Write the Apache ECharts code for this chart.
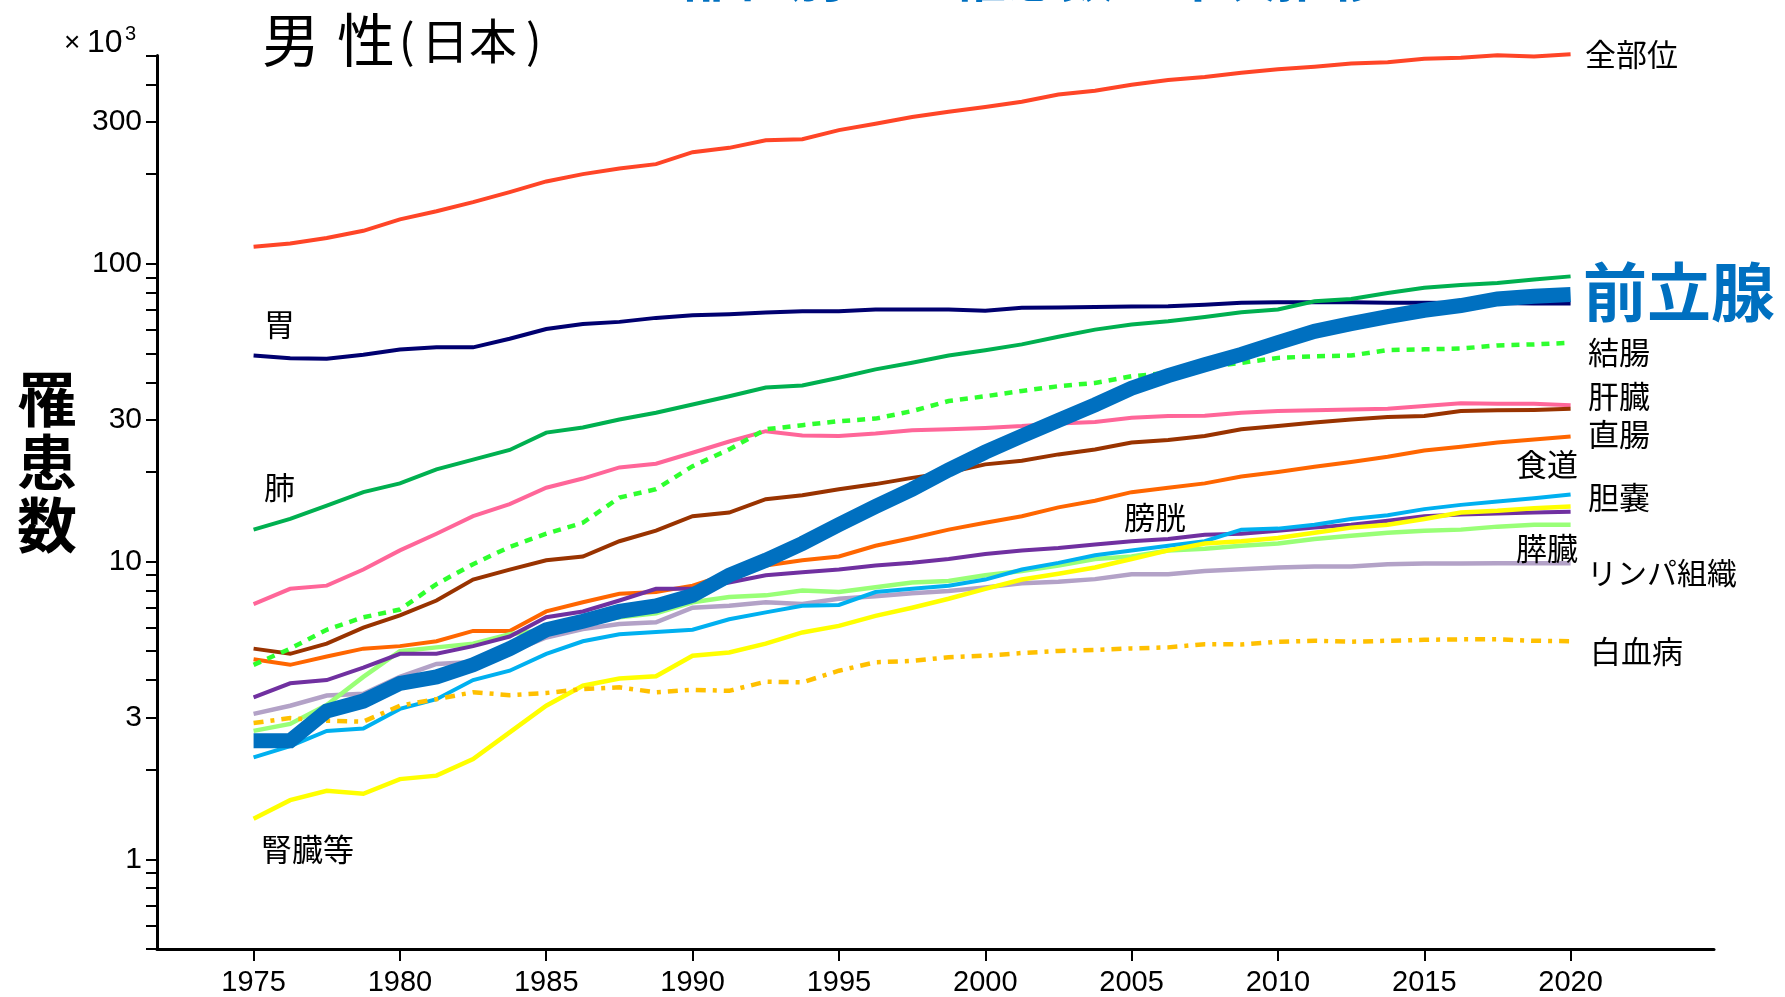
<!DOCTYPE html>
<html>
<head>
<meta charset="utf-8">
<script src="https://cdn.jsdelivr.net/npm/echarts@6/dist/echarts.min.js"></script>
<style>
  html, body { margin: 0; padding: 0; background: #fff; }
  #chart { width: 1785px; height: 997px; }
</style>
</head>
<body>
<div id="chart"></div>
<script>
// Sample positions along the time axis (years)
const years = [1975, 1976.25, 1977.5, 1978.75, 1980, 1981.25, 1982.5, 1983.75, 1985,
  1986.25, 1987.5, 1988.75, 1990, 1991.25, 1992.5, 1993.75, 1995, 1996.25, 1997.5,
  1998.75, 2000, 2001.25, 2002.5, 2003.75, 2005, 2006.25, 2007.5, 2008.75, 2010,
  2011.25, 2012.5, 2013.75, 2015, 2016.25, 2017.5, 2018.75, 2020];

// Axis ticks
const xTickYears = [1975, 1980, 1985, 1990, 1995, 2000, 2005, 2010, 2015, 2020];
const yTickLabels = [1, 3, 10, 30, 100, 300];
const yTicks = [0.5, 0.6, 0.7, 0.8, 0.9, 1, 2, 3, 4, 5, 6, 7, 8, 9, 10, 20, 30, 40, 50,
  60, 70, 80, 90, 100, 200, 300, 400, 500];

// Incidence (x 1000 persons), men
const allSites = [114, 117, 122, 129, 141, 150, 161, 174, 189, 200, 209, 216, 237, 245, 260,
  262, 281, 295, 311, 324, 336, 350, 370, 381, 399, 414, 424, 438, 450, 459, 470, 475, 488,
  492, 501, 497, 505];
const stomach = [49.2, 48.2, 48.0, 49.5, 51.5, 52.4, 52.4, 56.0, 60.4, 62.8, 63.8, 65.8, 67.1,
  67.7, 68.6, 69.2, 69.2, 70.2, 70.2, 70.2, 69.6, 71.1, 71.3, 71.6, 71.8, 72.0, 72.9, 74.0,
  74.2, 74.2, 74.2, 74.0, 74.0, 73.8, 73.8, 73.6, 73.6];
const lung = [12.8, 13.9, 15.4, 17.1, 18.3, 20.4, 22.0, 23.7, 27.1, 28.2, 30.0, 31.6, 33.7,
  35.9, 38.4, 39.0, 41.4, 44.2, 46.5, 49.2, 51.2, 53.6, 56.9, 60.1, 62.5, 64.1, 66.3, 68.7,
  70.2, 74.8, 76.2, 79.8, 83.0, 84.9, 86.2, 88.5, 90.7];
const prostate = [2.5, 2.5, 3.15, 3.4, 3.9, 4.1, 4.5, 5.1, 5.9, 6.3, 6.8, 7.1, 7.7, 9.0, 10.1,
  11.5, 13.3, 15.3, 17.5, 20.3, 23.3, 26.4, 29.8, 33.6, 38.2, 42.1, 45.8, 49.6, 54.3, 59.3,
  62.9, 66.4, 69.8, 72.4, 76.2, 77.8, 78.8];
const colon = [4.5, 5.1, 5.9, 6.5, 6.9, 8.4, 9.8, 11.2, 12.4, 13.5, 16.4, 17.5, 20.9, 23.8,
  27.8, 28.7, 29.6, 30.2, 32.0, 34.6, 35.9, 37.4, 38.8, 39.8, 41.9, 43.0, 44.8, 46.5, 48.3,
  48.9, 49.2, 51.3, 51.6, 51.9, 53.2, 53.6, 54.3];
const liver = [7.2, 8.1, 8.3, 9.4, 10.9, 12.4, 14.2, 15.6, 17.7, 19.0, 20.7, 21.3, 23.2, 25.3,
  27.4, 26.5, 26.4, 26.9, 27.6, 27.8, 28.1, 28.5, 29.1, 29.4, 30.4, 30.8, 30.9, 31.6, 32.0,
  32.2, 32.4, 32.6, 33.3, 34.0, 33.9, 33.9, 33.5];
const rectum = [5.1, 4.9, 5.3, 6.0, 6.6, 7.4, 8.7, 9.4, 10.1, 10.4, 11.7, 12.7, 14.2, 14.6,
  16.2, 16.7, 17.5, 18.2, 19.1, 19.9, 21.2, 21.8, 22.9, 23.8, 25.1, 25.6, 26.4, 27.8, 28.5,
  29.3, 30.0, 30.6, 30.8, 32.0, 32.2, 32.3, 32.6];
const esophagus = [4.7, 4.5, 4.8, 5.1, 5.2, 5.4, 5.85, 5.85, 6.8, 7.3, 7.8, 7.9, 8.3, 9.1, 9.7,
  10.1, 10.4, 11.3, 12.0, 12.8, 13.5, 14.2, 15.2, 16.0, 17.1, 17.7, 18.3, 19.3, 20.0, 20.8,
  21.6, 22.5, 23.6, 24.3, 25.1, 25.7, 26.3];
const bladder = [3.5, 3.9, 4.0, 4.4, 4.9, 4.9, 5.2, 5.6, 6.5, 6.8, 7.4, 8.1, 8.1, 8.5, 9.0, 9.2,
  9.4, 9.7, 9.9, 10.2, 10.6, 10.9, 11.1, 11.4, 11.7, 11.9, 12.3, 12.4, 12.7, 13.0, 13.3, 13.7,
  14.2, 14.4, 14.5, 14.6, 14.7];
const pancreas = [2.7, 2.85, 3.3, 4.1, 5.0, 5.15, 5.3, 5.7, 5.9, 6.2, 6.5, 6.7, 7.3, 7.6, 7.7,
  8.0, 7.9, 8.2, 8.5, 8.6, 9.0, 9.3, 9.7, 10.2, 10.4, 10.9, 11.05, 11.3, 11.5, 11.9, 12.2, 12.5,
  12.7, 12.8, 13.1, 13.3, 13.3];
const gallbladder = [2.2, 2.4, 2.7, 2.75, 3.2, 3.45, 4.0, 4.3, 4.9, 5.4, 5.7, 5.8, 5.9, 6.4,
  6.75, 7.1, 7.15, 7.9, 8.1, 8.3, 8.7, 9.4, 9.9, 10.5, 10.9, 11.3, 11.7, 12.8, 12.9, 13.3, 13.9,
  14.3, 15.0, 15.5, 15.9, 16.3, 16.8];
const kidney = [1.37, 1.58, 1.7, 1.66, 1.86, 1.91, 2.17, 2.67, 3.28, 3.83, 4.05, 4.12, 4.83,
  4.95, 5.3, 5.78, 6.08, 6.57, 7.0, 7.5, 8.1, 8.7, 9.1, 9.55, 10.2, 10.9, 11.5, 11.7, 12.0,
  12.5, 13.0, 13.3, 13.9, 14.6, 14.8, 15.1, 15.3];
const lymphoma = [3.08, 3.28, 3.55, 3.6, 4.1, 4.53, 4.6, 4.96, 5.56, 5.93, 6.17, 6.25, 7.0,
  7.1, 7.3, 7.2, 7.5, 7.64, 7.83, 7.97, 8.19, 8.46, 8.55, 8.73, 9.07, 9.07, 9.3, 9.43, 9.55,
  9.62, 9.62, 9.8, 9.85, 9.85, 9.87, 9.87, 9.87];
const leukemia = [2.87, 2.98, 2.92, 2.9, 3.28, 3.45, 3.64, 3.56, 3.62, 3.73, 3.78, 3.64, 3.71,
  3.68, 3.95, 3.93, 4.3, 4.59, 4.64, 4.77, 4.83, 4.93, 5.01, 5.05, 5.11, 5.15, 5.28, 5.27,
  5.38, 5.42, 5.38, 5.42, 5.46, 5.48, 5.48, 5.42, 5.4];

const CJK = '"Noto Sans CJK JP", "Noto Sans CJK SC", sans-serif';
const NUM = '"Liberation Sans", Arial, sans-serif';

// name, values, colour, width, dash
const lines = [
  ['全部位', allSites, '#ff4527', 4, 'solid'],
  ['胃', stomach, '#000070', 4, 'solid'],
  ['肺', lung, '#00b050', 4, 'solid'],
  ['肝臓', liver, '#ff6699', 4, 'solid'],
  ['直腸', rectum, '#993300', 4, 'solid'],
  ['食道', esophagus, '#ff6600', 4, 'solid'],
  ['リンパ組織', lymphoma, '#b3a2c7', 4.5, 'solid'],
  ['膵臓', pancreas, '#99ff77', 4.5, 'solid'],
  ['膀胱', bladder, '#7030a0', 4, 'solid'],
  ['胆嚢', gallbladder, '#00b0f0', 4, 'solid'],
  ['腎臓等', kidney, '#ffff00', 4.5, 'solid'],
  ['白血病', leukemia, '#ffc000', 4.5, [10, 7, 4, 7]],
  ['結腸', colon, '#2eff2e', 4.5, [8, 7]],
  ['前立腺', prostate, '#0070c0', 15, 'solid']
];

const series = lines.map(([name, vals, color, width, dash], k) => ({
  name: name,
  type: 'line',
  data: years.map((yr, i) => [yr, vals[i]]),
  symbol: 'none',
  showSymbol: false,
  clip: false,
  z: 2 + k * 0.01,
  lineStyle: { color: color, width: width, type: dash, cap: 'butt', join: 'miter' },
  itemStyle: { color: color },
  emphasis: { disabled: true },
  silent: true
}));

function txt(text, x, y, size, opt) {
  opt = opt || {};
  return {
    type: 'text', x: x, y: y, silent: true, z: 100,
    style: {
      text: text,
      font: (opt.weight || 'normal') + ' ' + size + 'px ' + (opt.family || CJK),
      fill: opt.color || '#000',
      align: opt.align || 'left',
      verticalAlign: opt.valign || 'middle',
      lineHeight: opt.lineHeight
    }
  };
}

const graphic = [
  // heading running off the top edge
  txt('部位別がん罹患数の年次推移', 1033, 3, 54, { align: 'center', valign: 'bottom', color: '#0070c0', weight: 'bold' }),
  // panel title
  txt('男', 262, 40, 58),
  txt('性', 337, 40, 58),
  txt('(', 399, 41, 46),
  txt('日本', 421, 41, 48),
  txt(')', 526, 41, 46),
  // unit
  txt('×', 64, 43, 28, { family: NUM }),
  txt('10', 87, 43, 32, { family: NUM }),
  txt('3', 125, 34, 20, { family: NUM }),
  // y axis name
  txt('罹\n患\n数', 47, 462, 60, { align: 'center', weight: 'bold', lineHeight: 63 }),
  // series labels
  txt('全部位', 1585, 54, 31),
  txt('前立腺', 1583, 292, 64, { weight: 'bold', color: '#0070c0' }),
  txt('結腸', 1588, 352, 31),
  txt('肝臓', 1588, 396, 31),
  txt('直腸', 1588, 434, 31),
  txt('食道', 1578, 464, 31, { align: 'right' }),
  txt('胆嚢', 1588, 497, 31),
  txt('膀胱', 1124, 517, 31),
  txt('膵臓', 1578, 548, 31, { align: 'right' }),
  txt('リンパ組織', 1587, 573, 30),
  txt('白血病', 1590, 651, 31),
  txt('胃', 264, 324, 31),
  txt('肺', 264, 487, 31),
  txt('腎臓等', 261, 849, 31)
];

const chart = echarts.init(document.getElementById('chart'), null, { renderer: 'canvas' });
chart.setOption({
  animation: false,
  backgroundColor: '#fff',
  grid: { left: 157, right: 71, top: 55.6, bottom: 47, containLabel: false },
  xAxis: {
    type: 'value',
    min: 1971.7,
    max: 2024.9,
    axisLine: { show: true, onZero: false, lineStyle: { color: '#000', width: 3 } },
    axisTick: { show: true, customValues: xTickYears, length: 12, lineStyle: { color: '#000', width: 2 } },
    axisLabel: {
      customValues: xTickYears, margin: 19, fontSize: 29, color: '#000', fontFamily: NUM,
      formatter: v => String(Math.round(v))
    },
    splitLine: { show: false }
  },
  yAxis: {
    type: 'log',
    logBase: 10,
    min: 0.5,
    max: 500,
    axisLine: { show: true, onZero: false, lineStyle: { color: '#000', width: 3 } },
    axisTick: { show: true, customValues: yTicks, length: 11, lineStyle: { color: '#000', width: 2 } },
    axisLabel: {
      customValues: yTickLabels, margin: 15, fontSize: 30, color: '#000', fontFamily: NUM,
      formatter: v => String(+Number(v).toPrecision(3))
    },
    splitLine: { show: false },
    minorTick: { show: false }
  },
  series: series,
  graphic: graphic
});
</script>
</body>
</html>
